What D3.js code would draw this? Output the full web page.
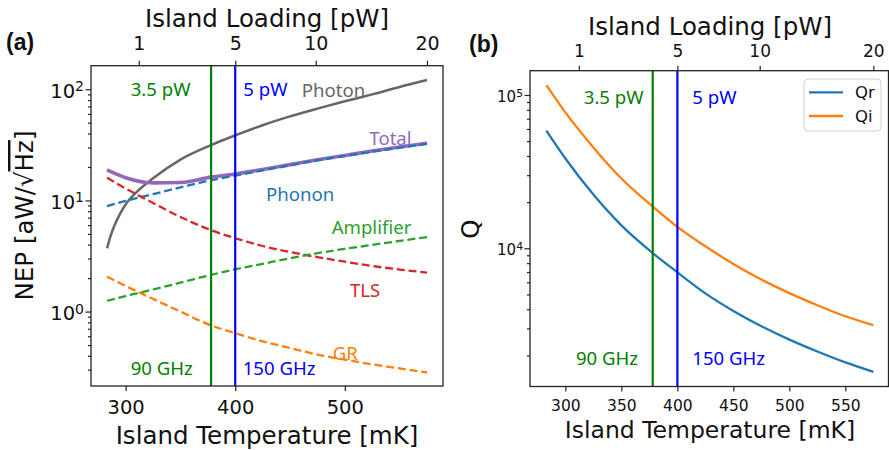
<!DOCTYPE html>
<html>
<head>
<meta charset="utf-8">
<script src="https://cdn.jsdelivr.net/npm/d3@7"></script>
<style>
  body { margin: 0; background: #fff; }
  svg { display: block; }
</style>
</head>
<body>
<svg id="chart" width="889" height="450"></svg>
<script>
// values
const temps = [283, 300, 325, 350, 378, 400, 425, 450, 475, 500, 525, 550, 575];
const photonT = [283, 286, 290, 295, 300, 310, 325, 350, 378, 400, 425, 450, 475, 500, 525, 550, 575];
const photon = [3.7, 4.7, 6.0, 7.6, 9.2, 11.9, 15.8, 23.3, 31.5, 38.5, 47.5, 57, 67, 78, 90, 105, 121];
const total = [18.8, 16.0, 14.4, 14.5, 16.2, 17.3, 19.0, 21.0, 23.2, 25.4, 27.8, 30.2, 32.7];
const phonon = [8.9, 9.9, 11.4, 13.1, 15.2, 16.7, 18.6, 20.7, 22.9, 25.1, 27.4, 29.8, 32.3];
const tls = [16.0, 12.8, 9.5, 7.1, 5.4, 4.57, 3.89, 3.43, 3.09, 2.81, 2.57, 2.39, 2.24];
const amplifier = [1.25, 1.38, 1.58, 1.82, 2.14, 2.4, 2.69, 3.02, 3.35, 3.67, 3.98, 4.32, 4.68];
const gr = [2.06, 1.7, 1.3, 1.0, 0.75, 0.64, 0.54, 0.47, 0.41, 0.37, 0.335, 0.308, 0.283];
const qr = [58500, 38500, 22400, 14100, 9300, 6970, 5080, 3900, 3100, 2535, 2120, 1800, 1563];
const qi = [116000, 77000, 45500, 28500, 18700, 13800, 10300, 7900, 6250, 5100, 4250, 3600, 3150];

const loadLabels = ["1", "5", "10", "20"];
const loadTemps = [312, 400, 473.5, 575];

const bandTemps = [378, 400];
const bandLoads = ["3.5 pW", "5 pW"];
const bandNames = ["90 GHz", "150 GHz"];
const bandColors = ["#008000", "#0000ff"];

const svg = d3.select("#chart");
const FONT = "DejaVu Sans";
const NOTE = "Noto Sans";

const xA = d3.scaleLinear().domain([268.4, 589.6]).range([91, 443]);
const yA = d3.scaleLog().domain([0.214, 163]).range([386, 65.7]);
const xB = d3.scaleLinear().domain([268.4, 589.6]).range([530, 889.7]);
const yB = d3.scaleLog().domain([1254, 1.44e5]).range([386.5, 70.7]);

function styleAxis(g, fs) {
  g.attr("font-family", FONT).attr("font-size", fs);
  g.select(".domain").remove();
  g.selectAll(".tick line").attr("stroke", "#222").attr("stroke-width", 1.2);
  g.selectAll(".tick text").attr("fill", "#111");
}

function logAxis(scale, xPos, fs, pad) {
  const all = scale.ticks();
  const isMajor = v => Math.abs(Math.log10(v) - Math.round(Math.log10(v))) < 1e-9;
  const g = svg.append("g").attr("transform", `translate(${xPos},0)`);
  const gmin = g.append("g").call(d3.axisLeft(scale).tickValues(all.filter(v => !isMajor(v))).tickSize(3).tickFormat(""));
  styleAxis(gmin, fs);
  const gmaj = g.append("g").call(d3.axisLeft(scale).tickValues(all.filter(isMajor)).tickSize(5.5).tickFormat(""));
  styleAxis(gmaj, fs);
  const t = gmaj.selectAll(".tick").append("text")
    .attr("x", -(5.5 + pad)).attr("y", fs * 0.42)
    .attr("text-anchor", "end").attr("fill", "#111");
  t.append("tspan").text("10");
  t.append("tspan").attr("dy", "-0.48em").attr("font-size", fs * 0.72)
    .text(d => Math.round(Math.log10(d)));
}

function frame(x0, y0, x1, y1) {
  svg.append("rect").attr("x", x0).attr("y", y0)
    .attr("width", x1 - x0).attr("height", y1 - y0)
    .attr("fill", "none").attr("stroke", "#222").attr("stroke-width", 1.3);
}

function curve(xs, ys, T, V, color, width, dash) {
  const line = d3.line().x(d => xs(d[0])).y(d => ys(d[1])).curve(d3.curveMonotoneX);
  svg.append("path").datum(d3.zip(T, V))
    .attr("d", line).attr("fill", "none")
    .attr("stroke", color).attr("stroke-width", width)
    .attr("stroke-dasharray", dash || null);
}

function note(xs, ys, T, v, txt, color, fs) {
  svg.append("text").attr("x", xs(T)).attr("y", ys(v))
    .attr("font-family", NOTE).attr("font-size", fs || 18.6)
    .attr("fill", color).text(txt);
}

// ---------- panel (a) ----------
curve(xA, yA, photonT, photon, "#666666", 2.5);
curve(xA, yA, temps, total, "#9467bd", 3.6);
curve(xA, yA, temps, phonon, "#1f77b4", 2.3, "8,3.8");
curve(xA, yA, temps, tls, "#d62728", 2.3, "8,3.8");
curve(xA, yA, temps, amplifier, "#2ca02c", 2.3, "8,3.8");
curve(xA, yA, temps, gr, "#ff7f0e", 2.3, "8,3.8");

bandTemps.forEach((T, i) => {
  svg.append("line").attr("x1", xA(T)).attr("x2", xA(T))
    .attr("y1", yA.range()[0]).attr("y2", yA.range()[1])
    .attr("stroke", bandColors[i]).attr("stroke-width", 2.2);
});

note(xA, yA, 304.6, 87, bandLoads[0], bandColors[0]);
note(xA, yA, 407.4, 87, bandLoads[1], bandColors[1]);
note(xA, yA, 304.6, 0.269, bandNames[0], bandColors[0]);
note(xA, yA, 406.8, 0.269, bandNames[1], bandColors[1]);
note(xA, yA, 460.7, 86, "Photon", "#666666");
note(xA, yA, 522.4, 31.5, "Total", "#9467bd");
note(xA, yA, 428.1, 9.95, "Phonon", "#1f77b4");
note(xA, yA, 488, 4.99, "Amplifier", "#2ca02c");
note(xA, yA, 504.7, 1.36, "TLS", "#d62728");
note(xA, yA, 489, 0.366, "GR", "#ff7f0e");

frame(91, 65.7, 443, 386);

const axA = svg.append("g").attr("transform", "translate(0,386)")
  .call(d3.axisBottom(xA).ticks(3).tickSize(5).tickPadding(9));
styleAxis(axA, 19.5);
const topA = svg.append("g").attr("transform", "translate(0,65.7)")
  .call(d3.axisTop(xA).tickValues(loadTemps).tickFormat((d, i) => loadLabels[i]).tickSize(5).tickPadding(10.5));
styleAxis(topA, 19);
logAxis(yA, 91, 19.5, 1.5);

svg.append("text").attr("x", 267).attr("y", 444).attr("text-anchor", "middle")
  .attr("font-family", FONT).attr("font-size", 24.5).attr("fill", "#111")
  .text("Island Temperature [mK]");
svg.append("text").attr("x", 267).attr("y", 27.3).attr("text-anchor", "middle")
  .attr("font-family", FONT).attr("font-size", 24.5).attr("fill", "#111")
  .text("Island Loading [pW]");
const yl = svg.append("text").attr("transform", "translate(33,215.5) rotate(-90)")
  .attr("text-anchor", "middle").attr("font-family", FONT).attr("font-size", 24.5).attr("fill", "#111");
yl.append("tspan").text("NEP [aW/\u221A");
yl.append("tspan").style("text-decoration", "overline").text("Hz");
yl.append("tspan").text("]");

svg.append("text").attr("x", 6).attr("y", 50)
  .attr("font-family", "Liberation Sans").attr("font-weight", "bold").attr("font-size", 23)
  .attr("fill", "#111").text("(a)");

// ---------- panel (b) ----------
curve(xB, yB, temps, qr, "#1f77b4", 2.3);
curve(xB, yB, temps, qi, "#ff7f0e", 2.3);

bandTemps.forEach((T, i) => {
  svg.append("line").attr("x1", xB(T)).attr("x2", xB(T))
    .attr("y1", yB.range()[0]).attr("y2", yB.range()[1])
    .attr("stroke", bandColors[i]).attr("stroke-width", 2.2);
});

note(xB, yB, 316.4, 86900, bandLoads[0], bandColors[0]);
note(xB, yB, 413.3, 86900, bandLoads[1], bandColors[1]);
note(xB, yB, 309.4, 1732, bandNames[0], bandColors[0]);
note(xB, yB, 413.3, 1732, bandNames[1], bandColors[1]);

frame(530, 70.7, 888.5, 386.5);

const axB = svg.append("g").attr("transform", "translate(0,386.5)")
  .call(d3.axisBottom(xB).ticks(6).tickSize(5).tickPadding(8.5));
styleAxis(axB, 15.5);
const topB = svg.append("g").attr("transform", "translate(0,70.7)")
  .call(d3.axisTop(xB).tickValues(loadTemps).tickFormat((d, i) => loadLabels[i]).tickSize(5).tickPadding(8.7));
styleAxis(topB, 17);
logAxis(yB, 530, 15, 1.5);

svg.append("text").attr("x", 710).attr("y", 438).attr("text-anchor", "middle")
  .attr("font-family", FONT).attr("font-size", 23.5).attr("fill", "#111")
  .text("Island Temperature [mK]");
svg.append("text").attr("x", 710).attr("y", 35).attr("text-anchor", "middle")
  .attr("font-family", FONT).attr("font-size", 24.5).attr("fill", "#111")
  .text("Island Loading [pW]");
svg.append("text").attr("transform", "translate(479,229) rotate(-90)")
  .attr("text-anchor", "middle").attr("font-family", FONT).attr("font-size", 24.5).attr("fill", "#111")
  .text("Q");
svg.append("text").attr("x", 469).attr("y", 51.5)
  .attr("font-family", "Liberation Sans").attr("font-weight", "bold").attr("font-size", 23)
  .attr("fill", "#111").text("(b)");

// legend
const legNames = ["Qr", "Qi"];
const legColors = ["#1f77b4", "#ff7f0e"];
const leg = svg.append("g").attr("transform", "translate(804,79)");
leg.append("rect").attr("width", 77).attr("height", 52).attr("rx", 4)
  .attr("fill", "#fff").attr("fill-opacity", 0.8)
  .attr("stroke", "#d0d0d0").attr("stroke-width", 1);
legNames.forEach((n, i) => {
  const gy = 13.3 + i * 23.7;
  leg.append("line").attr("x1", 5).attr("x2", 39).attr("y1", gy).attr("y2", gy)
    .attr("stroke", legColors[i]).attr("stroke-width", 2.3);
  leg.append("text").attr("x", 51).attr("y", gy + 6)
    .attr("font-family", FONT).attr("font-size", 16.5).attr("fill", "#111").text(n);
});
</script>
</body>
</html>
